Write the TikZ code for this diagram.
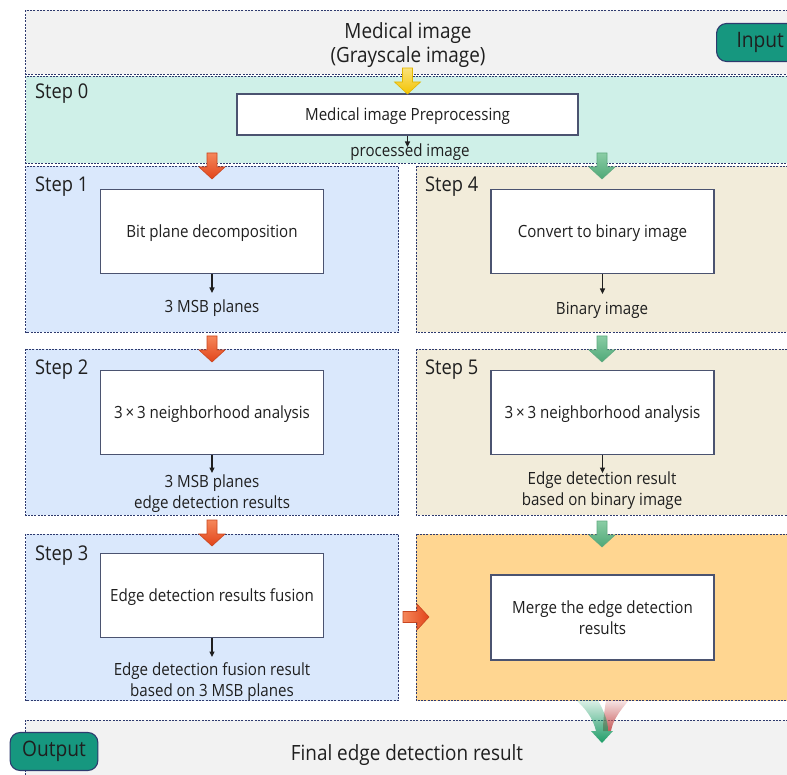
\documentclass[tikz,border=0pt]{standalone}
\usepackage{fontspec}
\setmainfont{Open Sans}[FakeStretch=0.9]
\usetikzlibrary{arrows.meta,fadings}
\definecolor{bandgray}{HTML}{F2F2F2}
\definecolor{bandteal}{HTML}{CFF0E8}
\definecolor{bandblue}{HTML}{DAE8FC}
\definecolor{bandbeige}{HTML}{F2ECDA}
\definecolor{bandorange}{HTML}{FFD691}
\definecolor{dashc}{HTML}{2E3A6E}
\definecolor{boxc}{HTML}{4B5370}
\definecolor{tealfill}{HTML}{16977F}
\definecolor{txt}{HTML}{1F1F1F}
\definecolor{redtop}{HTML}{F5875A}
\definecolor{redbot}{HTML}{E2441A}
\definecolor{redline}{HTML}{C9461F}
\definecolor{grntop}{HTML}{8ACDA5}
\definecolor{grnbot}{HTML}{4FA877}
\definecolor{grnline}{HTML}{5FAA80}
\definecolor{yeltop}{HTML}{FAE27A}
\definecolor{yelbot}{HTML}{F3C300}
\definecolor{yelline}{HTML}{E2B600}
\definecolor{fadegrn}{HTML}{1E9E68}
\definecolor{fadered}{HTML}{C85A5A}
\tikzfading[name=fadein, top color=transparent!85, bottom color=transparent!0]
\begin{document}
\begin{tikzpicture}[x=1pt,y=-1pt,
  band/.style={draw=dashc, line width=0.9pt, dash pattern=on 2pt off 1.3pt},
  procbox/.style={draw=boxc, line width=1.1pt, fill=white, inner sep=0pt,
    minimum width=223pt, minimum height=84pt, align=center,
    font=\fontsize{16.8}{20.5}\selectfont, text=txt},
  onelinebox/.style={procbox, text depth=0pt},
  lbl/.style={anchor=base, inner sep=0pt, font=\fontsize{16.8}{20}\selectfont, text=txt},
  steplbl/.style={anchor=base west, inner sep=0pt, font=\fontsize{20.3}{24}\selectfont, text=txt},
  bigtxt/.style={anchor=base, inner sep=0pt, font=\fontsize{21}{25}\selectfont, text=txt},
  iobox/.style={draw=dashc, line width=1.1pt, fill=tealfill, rounded corners=10pt,
    minimum height=38pt, inner ysep=0pt, font=\fontsize{21.3}{25}\selectfont, text=txt},
  thin/.style={draw=txt, line width=1.1pt, -{Triangle[length=5.5pt,width=5pt]}},
  redarr/.style={top color=redtop, bottom color=redbot, draw=redline, line width=0.6pt},
  redarrh/.style={left color=redtop, right color=redbot, draw=redline, line width=0.6pt},
  grnarr/.style={top color=grntop, bottom color=grnbot, draw=grnline, line width=0.6pt},
  yelarr/.style={top color=yeltop, bottom color=yelbot, draw=yelline, line width=0.6pt},
  dnarrow/.pic={\path[pic actions] (-5,0) -- (5,0) -- (5,14) -- (13,14) -- (0,26) -- (-13,14) -- (-5,14) -- cycle;},
  rtarrow/.pic={\path[pic actions] (0,-5.5) -- (14,-5.5) -- (14,-13) -- (26,0) -- (14,13) -- (14,5.5) -- (0,5.5) -- cycle;}
]
\useasboundingbox (0,0) rectangle (787,775);
\clip (0,0) rectangle (787,775);

% bands
\path[band, fill=bandgray] (25.5,10.5) rectangle (820,74);
\path[band, fill=bandteal] (25.5,76.5) rectangle (820,163);
\path[band, fill=bandblue] (25.5,166) rectangle (398.5,332.5);
\path[band, fill=bandbeige] (416,166) rectangle (820,332.5);
\path[band, fill=bandblue] (25.5,349) rectangle (398.5,515);
\path[band, fill=bandbeige] (416,349) rectangle (820,515);
\path[band, fill=bandblue] (25.5,534) rectangle (398.5,700.5);
\path[band, fill=bandorange] (416,534) rectangle (820,700.5);
\path[band, fill=bandgray] (25.5,720) rectangle (820,800);

% top
\node[bigtxt] (t1) at (408,39) {Medical image};
\node[bigtxt] (t2) at (408,63) {(Grayscale image)};
\node[iobox, anchor=west, inner xsep=20pt, minimum width=120pt, align=left, text width=80pt] (input) at (716,42.5) {Input};

% step labels
\node[steplbl] (s0) at (35,99) {Step 0};
\node[steplbl] (s1) at (35,192) {Step 1};
\node[steplbl] (s4) at (425,192) {Step 4};
\node[steplbl] (s2) at (35,374) {Step 2};
\node[steplbl] (s5) at (425,374) {Step 5};
\node[steplbl] (s3) at (35,560) {Step 3};

% step 0
\node[onelinebox, minimum width=341pt, minimum height=41pt] (pre) at (407.5,114.5) {Medical image Preprocessing};
\coordinate (e0) at (407.5,147);
\draw[thin] (pre.south) -- (e0);
\node[lbl] (p0) at (410,157) {processed image};

% left column
\node[onelinebox] (b1) at (212,231.5) {Bit plane decomposition};
\coordinate (e1) at (212,293);
\draw[thin] (b1.south) -- (e1);
\node[lbl] (l1) at (212,313) {3 MSB planes};

\node[onelinebox] (b2) at (212,412.5) {3\,×\,3 neighborhood analysis};
\coordinate (e2) at (212,473);
\draw[thin] (b2.south) -- (e2);
\node[lbl] (l2a) at (212,487) {3 MSB planes};
\node[lbl] (l2b) at (212,508) {edge detection results};

\node[onelinebox] (b3) at (212,595.5) {Edge detection results fusion};
\coordinate (e3) at (212,657);
\draw[thin] (b3.south) -- (e3);
\node[lbl] (l3a) at (212,675) {Edge detection fusion result};
\node[lbl] (l3b) at (212,696) {based on 3 MSB planes};

% right column
\node[onelinebox] (b4) at (602.5,231.5) {Convert to binary image};
\coordinate (e4) at (602.5,294);
\draw[thin] (b4.south) -- (e4);
\node[lbl] (l4) at (602,315) {Binary image};

\node[onelinebox] (b5) at (602.5,412.5) {3\,×\,3 neighborhood analysis};
\coordinate (e5) at (602.5,473);
\draw[thin] (b5.south) -- (e5);
\node[lbl] (l5a) at (602,484) {Edge detection result};
\node[lbl] (l5b) at (602,505) {based on binary image};

\node[procbox, minimum height=85pt] (b6) at (602.5,617.5) {Merge the edge detection\\results};

% block arrows
\pic[yelarr] at (407.5,68) {dnarrow};
\pic[redarr] at (212,153) {dnarrow};
\pic[redarr] at (212,336) {dnarrow};
\pic[redarr] at (212,520) {dnarrow};
\pic[grnarr] at (602,153) {dnarrow};
\pic[grnarr] at (602,336) {dnarrow};
\pic[grnarr] at (602,521) {dnarrow};
\pic[redarrh] at (403,617) {rtarrow};

% merge fading arrows
\fill[fadered, path fading=fadein] (606,700) -- (629,700) .. controls (619,712) and (613,720) .. (611,731) -- (603,731) .. controls (603,718) and (605,708) .. (606,700) -- cycle;
\fill[fadegrn, path fading=fadein] (576,700) -- (598,700) .. controls (604,712) and (608,720) .. (608,731) -- (613,731) -- (602,743) -- (591,731) -- (596,731) .. controls (593,718) and (585,708) .. (576,700) -- cycle;

% output
\node[iobox, inner xsep=12pt, minimum width=86pt] (output) at (54,751.5) {Output};
\node[bigtxt] (final) at (407,760) {Final edge detection result};
\end{tikzpicture}
\end{document}
